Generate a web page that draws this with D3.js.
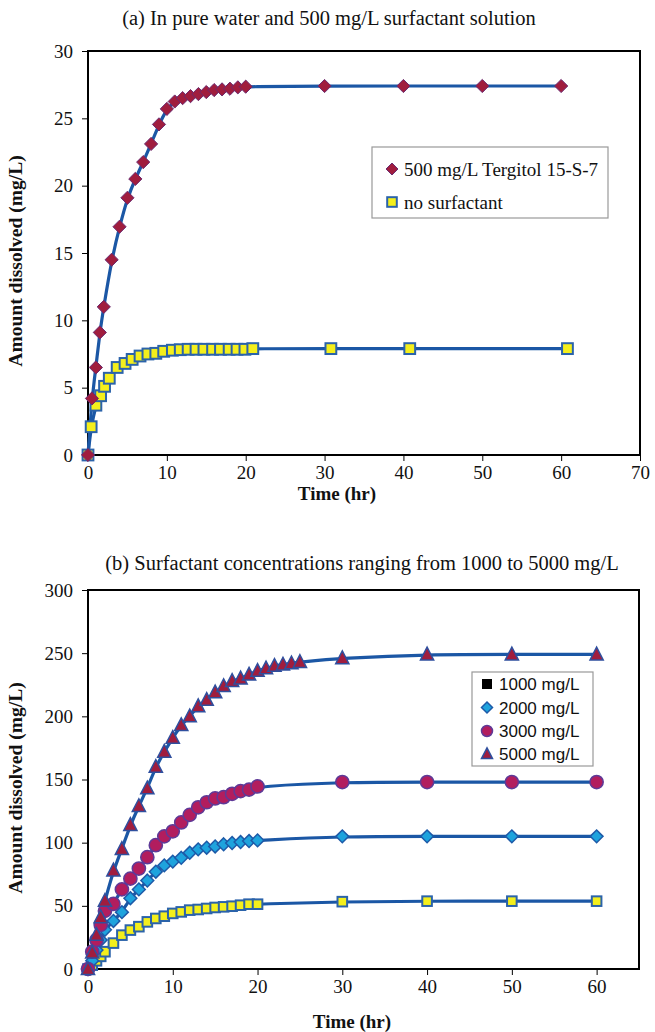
<!DOCTYPE html>
<html>
<head>
<meta charset="utf-8">
<script src="https://cdn.jsdelivr.net/npm/d3@7"></script>
<style>
  html, body { margin: 0; padding: 0; background: #ffffff; }
  svg { display: block; }
</style>
</head>
<body>
<svg id="fig" width="655" height="1032"></svg>
<script>
// ---------- Panel (a): pure water vs. 500 mg/L surfactant ----------
const aTitle = "(a) In pure water and 500 mg/L surfactant solution";
const aXTicks = [0, 10, 20, 30, 40, 50, 60, 70];
const aYTicks = [0, 5, 10, 15, 20, 25, 30];

const tergitolTime = [0, 0.5, 1, 1.5, 2, 3, 4, 5, 6, 7, 8, 9, 10, 11, 12, 13, 14, 15, 16, 17, 18, 19, 20, 30, 40, 50, 60];
const tergitolConc = [0, 4.2, 6.5, 9.1, 11.0, 14.5, 16.95, 19.1, 20.5, 21.75, 23.1, 24.55, 25.7, 26.25, 26.5, 26.65, 26.8, 26.95, 27.1, 27.15, 27.2, 27.3, 27.35, 27.4, 27.4, 27.4, 27.4];

const waterTime = [0, 0.4, 1, 1.6, 2.1, 2.7, 3.7, 4.7, 5.6, 6.6, 7.6, 8.6, 9.6, 10.7, 11.7, 12.7, 13.7, 14.7, 15.8, 16.8, 17.9, 18.9, 19.9, 20.9, 30.8, 40.8, 60.8];
const waterConc = [0, 2.1, 3.7, 4.4, 5.1, 5.7, 6.5, 6.8, 7.1, 7.35, 7.5, 7.55, 7.7, 7.78, 7.82, 7.85, 7.85, 7.85, 7.85, 7.85, 7.85, 7.85, 7.85, 7.9, 7.9, 7.9, 7.9];

const aLegend = ["500 mg/L Tergitol 15-S-7", "no surfactant"];

// ---------- Panel (b): 1000 to 5000 mg/L ----------
const bTitle = "(b) Surfactant concentrations ranging from 1000 to 5000 mg/L";
const bXTicks = [0, 10, 20, 30, 40, 50, 60];
const bYTicks = [0, 50, 100, 150, 200, 250, 300];

const bTime = [0, 0.5, 1, 1.5, 2, 3, 4, 5, 6, 7, 8, 9, 10, 11, 12, 13, 14, 15, 16, 17, 18, 19, 20, 30, 40, 50, 60];
const conc1000 = [0, 3, 6.5, 10, 13.7, 20.5, 26.8, 30.8, 33.5, 37.3, 40, 41.8, 44, 45.2, 46.6, 47.1, 47.9, 48.7, 49.2, 49.7, 50.5, 51.3, 51.3, 53.3, 53.7, 53.7, 53.7];
const conc2000 = [0, 6.6, 15, 23, 31, 38, 45, 56, 63, 70, 77, 82, 85, 88, 92, 94.7, 96, 97, 98.7, 99.7, 100.5, 101.3, 101.8, 105, 105, 105, 105];
const conc3000 = [0, 13.7, 23, 35, 46, 51.5, 63, 71.5, 79.5, 88.5, 98, 105, 109, 116, 122, 128, 132, 135, 136, 138.7, 140.8, 142, 144.5, 148, 148, 148, 148];
const time5000 = [0, 0.5, 1, 1.5, 2, 3, 4, 5, 6, 7, 8, 9, 10, 11, 12, 13, 14, 15, 16, 17, 18, 19, 20, 21, 22, 23, 24, 25, 30, 40, 50, 60];
const conc5000 = [0, 13, 27, 41, 54, 78, 95, 114, 129, 143, 160, 172, 183, 193, 200, 208, 213, 219, 224, 228, 230, 233, 236, 238, 240, 241, 242, 243, 246, 249, 249, 249];

const bLegend = ["1000 mg/L", "2000 mg/L", "3000 mg/L", "5000 mg/L"];

const xTitle = "Time (hr)";
const yTitle = "Amount dissolved (mg/L)";

// ---------- styles ----------
const SERIF = "'Liberation Serif', 'Times New Roman', serif";
const SANS = "'Liberation Sans', Arial, sans-serif";
const LINE_BLUE = "#1b57a5";
const C = {
  crimson: "#a01d3e",
  crimsonEdge: "#6b2a70",
  yellow: "#f4ef1c",
  yellowEdge: "#2b63aa",
  cyan: "#1ea3dd",
  cyanEdge: "#1d5aa8",
  magenta: "#b21d5e",
  magentaEdge: "#5e3a98",
  triEdge: "#2f4f9e"
};

const svg = d3.select("#fig");

// marker painters: draw a symbol centred at (0,0)
function diamond(g, r, fill, stroke, sw) {
  g.append("path").attr("d", `M0,${-r}L${r},0L0,${r}L${-r},0Z`)
    .attr("fill", fill).attr("stroke", stroke).attr("stroke-width", sw);
}
function square(g, h, fill, stroke, sw) {
  g.append("rect").attr("x", -h).attr("y", -h).attr("width", 2 * h).attr("height", 2 * h)
    .attr("fill", fill).attr("stroke", stroke).attr("stroke-width", sw);
}
function circle(g, r, fill, stroke, sw) {
  g.append("circle").attr("r", r).attr("fill", fill).attr("stroke", stroke).attr("stroke-width", sw);
}
function triangle(g, r, fill, stroke, sw) {
  const h = r * 1.1;
  g.append("path").attr("d", `M0,${-h}L${r},${h * 0.75}L${-r},${h * 0.75}Z`)
    .attr("fill", fill).attr("stroke", stroke).attr("stroke-width", sw);
}

function panel(opt) {
  const g = svg.append("g");
  const x = d3.scaleLinear().domain(opt.xDomain).range([opt.left, opt.right]);
  const y = d3.scaleLinear().domain(opt.yDomain).range([opt.bottom, opt.top]);

  // title
  g.append("text").attr("x", opt.titleX).attr("y", opt.titleY)
    .attr("text-anchor", "middle").attr("font-family", SERIF).attr("font-size", 20.5)
    .attr("fill", "#111").text(opt.title);

  // plot frame
  g.append("rect").attr("x", opt.left).attr("y", opt.top)
    .attr("width", opt.right - opt.left).attr("height", opt.bottom - opt.top)
    .attr("fill", "#fff").attr("stroke", "#000").attr("stroke-width", 2);

  // axes
  const xa = g.append("g").attr("transform", `translate(0,${opt.bottom})`)
    .call(d3.axisBottom(x).tickValues(opt.xTicks).tickSize(6).tickSizeOuter(0).tickPadding(5).tickFormat(d3.format("d")));
  const ya = g.append("g").attr("transform", `translate(${opt.left},0)`)
    .call(d3.axisLeft(y).tickValues(opt.yTicks).tickSize(6).tickSizeOuter(0).tickPadding(9).tickFormat(d3.format("d")));
  [xa, ya].forEach(a => {
    a.select(".domain").remove();
    a.selectAll(".tick line").attr("stroke", "#000").attr("stroke-width", 1);
    a.selectAll(".tick text").attr("font-family", SERIF).attr("font-size", 19).attr("fill", "#111");
  });

  // axis titles
  g.append("text").attr("x", opt.xTitleX).attr("y", opt.xTitleY)
    .attr("text-anchor", "middle").attr("font-family", SERIF).attr("font-weight", "bold")
    .attr("font-size", 19).attr("fill", "#111").text(xTitle);
  g.append("text").attr("transform", `translate(${opt.yTitleX},${opt.yTitleY}) rotate(-90)`)
    .attr("text-anchor", "middle").attr("font-family", SERIF).attr("font-weight", "bold")
    .attr("font-size", 19.5).attr("fill", "#111").text(yTitle);

  // fitted curves
  const line = d3.line().x(d => x(d[0])).y(d => y(d[1])).curve(d3.curveBasis);
  opt.series.forEach(s => {
    const pts = s.t.map((t, i) => [t, s.v[i]]);
    g.append("path").datum(pts).attr("d", line)
      .attr("fill", "none").attr("stroke", LINE_BLUE).attr("stroke-width", 3.2)
      .attr("stroke-linejoin", "round");
  });
  // markers
  opt.series.forEach(s => {
    s.t.forEach((t, i) => {
      const m = g.append("g").attr("transform", `translate(${x(t)},${y(s.v[i])})`);
      s.mark(m);
    });
  });
  return { g, x, y };
}

// ---------- draw panel (a) ----------
const pa = panel({
  title: aTitle, titleX: 329, titleY: 25,
  left: 88, right: 640, top: 51, bottom: 455,
  xDomain: [0, 70], yDomain: [0, 30], xTicks: aXTicks, yTicks: aYTicks,
  xTitleX: 337, xTitleY: 500, yTitleX: 22, yTitleY: 261,
  series: [
    { t: waterTime, v: waterConc, mark: m => square(m, 5.4, C.yellow, C.yellowEdge, 2) },
    { t: tergitolTime, v: tergitolConc, mark: m => diamond(m, 6.6, C.crimson, C.crimsonEdge, 1) }
  ]
});

// legend (a)
{
  const lg = pa.g.append("g");
  lg.append("rect").attr("x", 372).attr("y", 147).attr("width", 236).attr("height", 71)
    .attr("fill", "#fff").attr("stroke", "#999").attr("stroke-width", 1.2);
  const rows = [169, 202];
  const markers = [
    m => diamond(m, 6, C.crimson, C.crimsonEdge, 1),
    m => square(m, 4.8, C.yellow, C.yellowEdge, 2)
  ];
  aLegend.forEach((label, i) => {
    markers[i](lg.append("g").attr("transform", `translate(392,${rows[i]})`));
    lg.append("text").attr("x", 404).attr("y", rows[i]).attr("dy", "0.35em")
      .attr("font-family", SERIF).attr("font-size", 19).attr("fill", "#111").text(label);
  });
}

// ---------- draw panel (b) ----------
const pb = panel({
  title: bTitle, titleX: 362, titleY: 570,
  left: 88, right: 639, top: 590, bottom: 969,
  xDomain: [0, 65], yDomain: [0, 300], xTicks: bXTicks, yTicks: bYTicks,
  xTitleX: 352, xTitleY: 1028, yTitleX: 22, yTitleY: 788,
  series: [
    { t: bTime, v: conc1000, mark: m => square(m, 4.8, C.yellow, C.yellowEdge, 2) },
    { t: bTime, v: conc2000, mark: m => diamond(m, 6.4, C.cyan, C.cyanEdge, 1.5) },
    { t: bTime, v: conc3000, mark: m => circle(m, 6.6, C.magenta, C.magentaEdge, 1.5) },
    { t: time5000, v: conc5000, mark: m => triangle(m, 6.6, C.crimson, C.triEdge, 1.5) }
  ]
});

// legend (b)
{
  const lg = pb.g.append("g");
  lg.append("rect").attr("x", 472).attr("y", 672).attr("width", 121).attr("height", 94)
    .attr("fill", "#fff").attr("stroke", "#999").attr("stroke-width", 1.2);
  const rows = [684, 707.5, 731, 754];
  const markers = [
    m => square(m, 4.5, "#000", "#000", 1),
    m => diamond(m, 5.5, C.cyan, C.cyanEdge, 1.5),
    m => circle(m, 5.5, C.magenta, C.magentaEdge, 1.5),
    m => triangle(m, 5.5, C.crimson, C.triEdge, 1.5)
  ];
  bLegend.forEach((label, i) => {
    markers[i](lg.append("g").attr("transform", `translate(487,${rows[i]})`));
    lg.append("text").attr("x", 499).attr("y", rows[i]).attr("dy", "0.36em")
      .attr("font-family", SANS).attr("font-size", 17).attr("fill", "#111").text(label);
  });
}
</script>
</body>
</html>
